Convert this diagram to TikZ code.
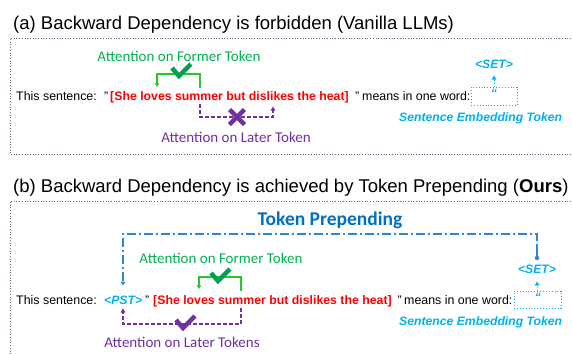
\documentclass[tikz,border=0pt]{standalone}
\usepackage{fontspec}
\setmainfont{Liberation Sans}
\newfontfamily\calfont{Carlito}
\usetikzlibrary{arrows.meta}
\definecolor{lgreen}{RGB}{0,176,80}
\definecolor{bgreen}{RGB}{40,200,40}
\definecolor{dgreen}{RGB}{0,160,80}
\definecolor{purp}{RGB}{112,48,160}
\definecolor{cyanc}{RGB}{0,176,240}
\definecolor{bluel}{RGB}{0,112,192}
\definecolor{blued}{RGB}{46,134,210}
\definecolor{framec}{RGB}{95,105,135}
\tikzset{
  ttl/.style={anchor=base west, inner sep=0pt, font=\fontsize{18.5}{20}\selectfont},
  sent/.style={anchor=base west, inner sep=0pt, font=\fontsize{12.4}{14}\selectfont},
  redt/.style={sent, text=red, font=\fontsize{12.3}{14}\selectfont\bfseries},
  cyt/.style={inner sep=0pt, text=cyanc, font=\fontsize{12.2}{14}\selectfont\bfseries\itshape},
  attn/.style={inner sep=0pt, font=\fontsize{15}{17}\selectfont\calfont},
  frame/.style={draw=framec, line width=0.7pt, dotted},
  tip/.style={-{Triangle[length=4pt,width=4.5pt]}},
  gbr/.style={draw=bgreen, line width=1.1pt, tip},
  pbr/.style={draw=purp, line width=1.1pt, dash pattern=on 4pt off 2pt, tip},
  cydot/.style={draw=cyanc, line width=0.9pt, dotted},
  chk/.style={line width=4.5pt, line cap=butt, line join=miter},
}
\begin{document}
\begin{tikzpicture}[x=1pt,y=-1pt]
\useasboundingbox (0,0) rectangle (572,354);
% ---------- panel (a)
\node[ttl] (ta) at (13,29.5) {(a) Backward Dependency is forbidden (Vanilla LLMs)};
\draw[frame] (576,38) -- (10,38) -- (10,154) -- (576,154);
\node[sent] (a1) at (16,100) {This sentence:};
\node[sent] (a2) at (104,100) {"};
\node[redt] (a3) at (110,100) {[She loves summer but dislikes the heat]};
\node[sent] (a4) at (355,100) {"};
\node[sent] (a5) at (362,100) {means in one word:};
\node[draw=cyanc, line width=0.9pt, dotted, minimum width=46pt, minimum height=18pt, inner sep=0pt] (abox) at (494,96) {};
\node[cyt] (aq) at (494,93.5) {“};
\node[cyt] (aset) at (494,64) {<SET>};
\draw[cydot, tip] (abox.north) -- (494,75.5);
\node[cyt, anchor=west] (aemb) at (399,118) {Sentence Embedding Token};
\node[attn, text=lgreen] (agl) at (179,56) {Attention on Former Token};
\coordinate (ag1) at (200,88);
\coordinate (ag2) at (157,87);
\draw[gbr] (ag1) -- (200,74) -- (157,74) -- (ag2);
\draw[chk, dgreen] (172,68) -- (179,76) -- (191,64);
\coordinate (ap1) at (200,104);
\coordinate (ap2) at (273,106.5);
\draw[pbr] (ap1) -- (200,117) -- (273,117) -- (ap2);
\draw[chk, purp] (229.5,109.5) -- (244.5,124.5) (244.5,109.5) -- (229.5,124.5);
\node[attn, text=purp] (apl) at (236,137) {Attention on Later Token};
% ---------- panel (b)
\node[ttl] (tb) at (13,192.5) {(b) Backward Dependency is achieved by Token Prepending (\textbf{Ours})};
\draw[frame] (576,201) -- (10,201) -- (10,360);
\node[inner sep=0pt, text=bluel, font=\fontsize{19.5}{22}\selectfont\calfont\bfseries] (tp) at (330,220) {Token Prepending};
\node[sent] (b1) at (16,304) {This sentence:};
\node[cyt, anchor=base west] (pst) at (104,304) {<PST>};
\node[sent] (b2) at (145,304) {"};
\node[redt] (b3) at (153,304) {[She loves summer but dislikes the heat]};
\node[sent] (b4) at (397.5,304) {"};
\node[sent] (b5) at (404,304) {means in one word:};
\node[draw=cyanc, line width=0.9pt, dotted, minimum width=47pt, minimum height=17pt, inner sep=0pt] (bbox) at (537.5,299.5) {};
\node[cyt] (bq) at (538,297.5) {“};
\node[cyt] (bset) at (537,269) {<SET>};
\draw[cydot, tip] (bbox.north) -- (537,281.5);
\node[cyt, anchor=west] (bemb) at (399,322) {Sentence Embedding Token};
\coordinate (bs) at (537,258);
\coordinate (be) at (123,285.5);
\fill[blued] (bs) circle (2.2pt);
\draw[blued, line width=1.1pt, dash pattern=on 9pt off 3pt on 2pt off 3pt, tip] (bs) -- (537,234) -- (123,234) -- (be);
\draw[blued, line width=1.1pt] (bs) -- (537,244);
\node[attn, text=lgreen] (bgl) at (221,258) {Attention on Former Token};
\coordinate (bg1) at (241,291);
\coordinate (bg2) at (199,289);
\draw[gbr] (bg1) -- (241,277) -- (199,277) -- (bg2);
\draw[chk, dgreen] (211,273) -- (218,281) -- (230,269);
\coordinate (bp1) at (241,308);
\coordinate (bp2) at (123,308.5);
\draw[pbr] (bp1) -- (241,324) -- (123,324) -- (bp2);
\draw[chk, purp] (176,320) -- (183,328) -- (195,316);
\node[attn, text=purp] (bpl) at (182,342) {Attention on Later Tokens};
\end{tikzpicture}
\end{document}
